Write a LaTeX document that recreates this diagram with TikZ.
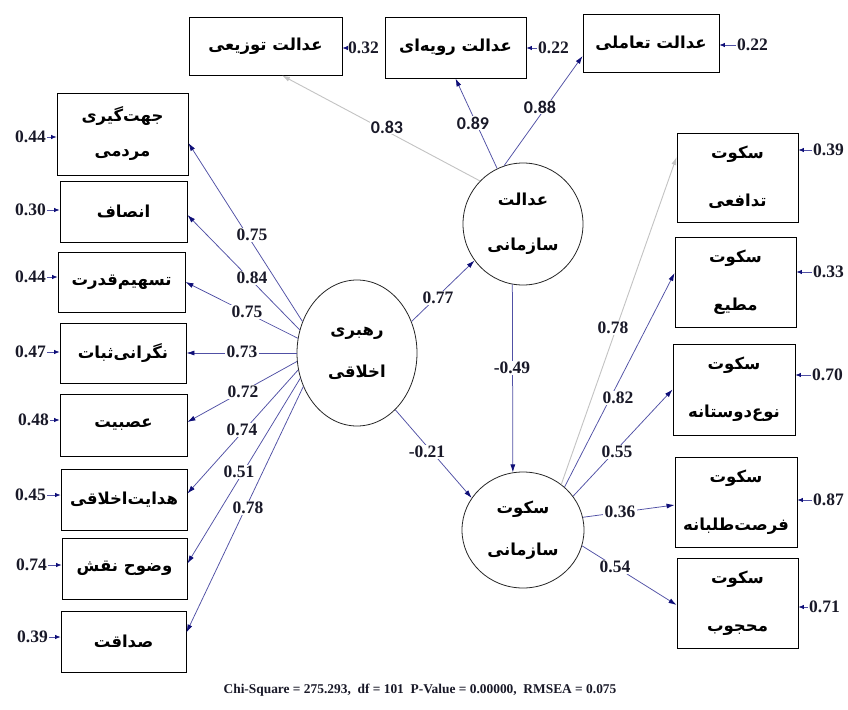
\documentclass[tikz,border=0pt]{standalone}
\usepackage{fontspec}
\setmainfont{Liberation Serif}
\newfontfamily\arabicfont[Script=Arabic]{DejaVu Sans}
\newfontfamily\calfont{Carlito}
\TeXXeTstate=1
\usetikzlibrary{arrows.meta,shapes.geometric,calc}
\newcommand{\fa}[1]{{\arabicfont\bfseries\beginR #1\endR}}
\definecolor{pathc}{RGB}{80,80,165}
\definecolor{headc}{RGB}{15,15,120}
\definecolor{grayc}{RGB}{195,195,195}
\definecolor{numc}{RGB}{25,25,40}
\begin{document}
\begin{tikzpicture}[x=1pt,y=-1pt,
  box/.style={draw=black, line width=0.9pt, inner sep=0pt, align=center},
  latent/.style={draw=black!85, line width=0.8pt, ellipse, inner sep=0pt, align=center},
  fa/.style={font=\fontsize{16.5}{#1}\selectfont},
  lpath/.style={draw=pathc, line width=0.75pt, -{Latex[length=8pt,width=5pt,color=headc]}},
  gpath/.style={draw=grayc, line width=0.9pt, -{Latex[length=8pt,width=5pt]}},
  lab/.style={fill=white, inner sep=1.2pt, text=numc, font=\fontsize{17.5}{17.5}\selectfont\bfseries},
  slab/.style={fill=white, inner sep=1.2pt, text=numc, font=\fontsize{18}{18}\selectfont\calfont\bfseries},
  errnum/.style={inner sep=1pt, text=numc, font=\fontsize{17.5}{17.5}\selectfont\bfseries},
  errarrow/.style={draw=pathc, line width=0.75pt, -{Latex[length=5.5pt,width=4.5pt,color=headc]}}
]
\useasboundingbox (0,0) rectangle (848,709);
\fill[white] (0,0) rectangle (848,709);

% left indicator boxes
\node[box, fa=35, minimum width=131pt, minimum height=82pt] (b1) at (122.5,134) {\fa{جهت‌گیری}\\\fa{مردمی}};
\node[box, fa=20, minimum width=127pt, minimum height=61pt] (b2) at (123.5,211.5) {\fa{انصاف}};
\node[box, fa=20, minimum width=127pt, minimum height=60pt] (b3) at (121.5,282) {\fa{تسهیم‌قدرت}};
\node[box, fa=20, minimum width=126pt, minimum height=60pt] (b4) at (123,353) {\fa{نگرانی‌ثبات}};
\node[box, fa=20, minimum width=127pt, minimum height=62pt] (b5) at (123.5,425) {\fa{عصبیت}};
\node[box, fa=20, minimum width=126pt, minimum height=61pt] (b6) at (124,499.5) {\fa{هدایت‌اخلاقی}};
\node[box, fa=20, minimum width=125pt, minimum height=61pt] (b7) at (124.5,568.5) {\fa{وضوح نقش}};
\node[box, fa=20, minimum width=125pt, minimum height=61pt] (b8) at (123.5,641.5) {\fa{صداقت}};

% top indicator boxes
\node[box, fa=20, minimum width=153pt, minimum height=58pt] (tz) at (265.5,46) {\fa{عدالت توزیعی}};
\node[box, fa=20, minimum width=141pt, minimum height=61pt] (rv) at (455.5,47.5) {\fa{عدالت رویه‌ای}};
\node[box, fa=20, minimum width=136pt, minimum height=58pt] (ta) at (651,43) {\fa{عدالت تعاملی}};

% right indicator boxes
\node[box, fa=48, minimum width=121pt, minimum height=89pt] (r1) at (737.5,177.5) {\fa{سکوت}\\\fa{تدافعی}};
\node[box, fa=48, minimum width=121pt, minimum height=90pt] (r2) at (735.5,282) {\fa{سکوت}\\\fa{مطیع}};
\node[box, fa=48, minimum width=122pt, minimum height=91pt] (r3) at (734,389.5) {\fa{سکوت}\\\fa{نوع‌دوستانه}};
\node[box, fa=48, minimum width=122pt, minimum height=90pt] (r4) at (736,502) {\fa{سکوت}\\\fa{فرصت‌طلبانه}};
\node[box, fa=48, minimum width=121pt, minimum height=90pt] (r5) at (737.5,603) {\fa{سکوت}\\\fa{محجوب}};

% latent variables
\node[latent, fa=45, minimum width=120pt, minimum height=122pt] (js) at (523,224) {\fa{عدالت}\\\fa{سازمانی}};
\node[latent, fa=42, minimum width=120pt, minimum height=146pt] (rl) at (357,353) {\fa{رهبری}\\\fa{اخلاقی}};
\node[latent, fa=42, minimum width=122pt, minimum height=116pt] (ss) at (523,530) {\fa{سکوت}\\\fa{سازمانی}};

% loadings of ethical leadership
\draw[lpath] (rl.150) -- ([yshift=-9pt]b1.east);
\draw[lpath] (rl.158) -- ([yshift=-3.5pt]b2.east);
\draw[lpath] (rl.166) -- (b3.east);
\draw[lpath] (rl.180) -- (b4.east);
\draw[lpath] (rl.188) -- ([yshift=3pt]b5.east);
\draw[lpath] (rl.196) -- ([yshift=6pt]b6.east);
\draw[lpath] (rl.204) -- ([yshift=5pt]b7.east);
\draw[lpath] (rl.212) -- ([yshift=9pt]b8.east);

% loadings of organisational justice
\draw[gpath] (js.135) -- ([xshift=16.5pt]tz.south);
\draw[lpath] (js.115) -- (rv.south);
\draw[lpath] (js.108) -- ([yshift=-13pt]ta.west);

% structural paths
\draw[lpath] (rl.30) -- (js.217);
\draw[lpath] (js.260) -- (ss.100);
\draw[lpath] (rl.304) -- (ss.148);

% loadings of organisational silence
\draw[gpath] (ss.50) -- ([yshift=20.5pt]r1.west);
\draw[lpath] (ss.46) -- ([yshift=9pt]r2.west);
\draw[lpath] (ss.34) -- (r3.west);
\draw[lpath] (ss.12) -- ([yshift=-3pt]r4.west);
\draw[lpath] (ss.345) -- ([yshift=-2pt]r5.west);

% path labels
\node[lab] (l1) at (252,235) {0.75};
\node[lab] (l2) at (252,278) {0.84};
\node[lab] (l3) at (247,312) {0.75};
\node[lab] (l4) at (242,352) {0.73};
\node[lab] (l5) at (243,392) {0.72};
\node[lab] (l6) at (242,430) {0.74};
\node[lab] (l7) at (239,472) {0.51};
\node[lab] (l8) at (248,508) {0.78};
\node[slab] (t1) at (387,127) {0.83};
\node[slab] (t2) at (473,123) {0.89};
\node[slab] (t3) at (540,107) {0.88};
\node[lab] (s1) at (438,298) {0.77};
\node[lab] (s2) at (512,368) {-0.49};
\node[lab] (s3) at (427,452) {-0.21};
\node[lab] (q1) at (613,328) {0.78};
\node[lab] (q2) at (618,398) {0.82};
\node[lab] (q3) at (617,452) {0.55};
\node[lab] (q4) at (620,512) {0.36};
\node[lab] (q5) at (615,567) {0.54};

% error terms, left
\node[errnum, anchor=east] (el1) at (47,137) {0.44};
\node[errnum, anchor=east] (el2) at (47,210) {0.30};
\node[errnum, anchor=east] (el3) at (47,277) {0.44};
\node[errnum, anchor=east] (el4) at (47,352) {0.47};
\node[errnum, anchor=east] (el5) at (50,420) {0.48};
\node[errnum, anchor=east] (el6) at (47,495) {0.45};
\node[errnum, anchor=east] (el7) at (48,565) {0.74};
\node[errnum, anchor=east] (el8) at (49,637) {0.39};
\draw[errarrow] (el1.east) -- (el1.east -| b1.west);
\draw[errarrow] (el2.east) -- (el2.east -| b2.west);
\draw[errarrow] (el3.east) -- (el3.east -| b3.west);
\draw[errarrow] (el4.east) -- (el4.east -| b4.west);
\draw[errarrow] (el5.east) -- (el5.east -| b5.west);
\draw[errarrow] (el6.east) -- (el6.east -| b6.west);
\draw[errarrow] (el7.east) -- (el7.east -| b7.west);
\draw[errarrow] (el8.east) -- (el8.east -| b8.west);

% error terms, top
\node[errnum, anchor=west] (et1) at (347,48) {0.32};
\node[errnum, anchor=west] (et2) at (537,48) {0.22};
\node[errnum, anchor=west] (et3) at (736,45) {0.22};
\draw[errarrow] (et1.west) -- (et1.west -| tz.east);
\draw[errarrow] (et2.west) -- (et2.west -| rv.east);
\draw[errarrow] (et3.west) -- (et3.west -| ta.east);

% error terms, right
\node[errnum, anchor=west] (er1) at (812,150) {0.39};
\node[errnum, anchor=west] (er2) at (812,272) {0.33};
\node[errnum, anchor=west] (er3) at (811,375) {0.70};
\node[errnum, anchor=west] (er4) at (812,500) {0.87};
\node[errnum, anchor=west] (er5) at (808,607) {0.71};
\draw[errarrow] (er1.west) -- (er1.west -| r1.east);
\draw[errarrow] (er2.west) -- (er2.west -| r2.east);
\draw[errarrow] (er3.west) -- (er3.west -| r3.east);
\draw[errarrow] (er4.west) -- (er4.west -| r4.east);
\draw[errarrow] (er5.west) -- (er5.west -| r5.east);

% fit statistics
\node[text=numc, font=\fontsize{13.4}{14}\selectfont\bfseries] (fit) at (420,690) {Chi-Square = 275.293,\ \ df = 101\ \ P-Value = 0.00000,\ \ RMSEA = 0.075};
\end{tikzpicture}
\end{document}
